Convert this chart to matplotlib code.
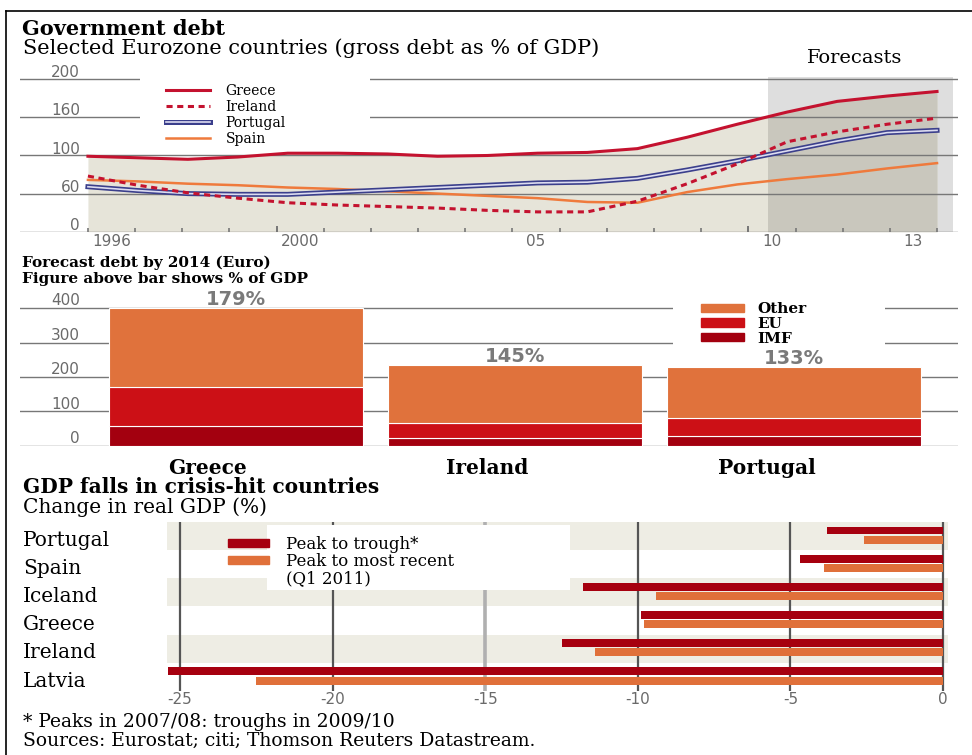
import numpy as np
import matplotlib
matplotlib.use('Agg')
from matplotlib import pyplot as plt
from matplotlib.patches import Patch, Rectangle
from matplotlib.lines import Line2D

W, H = 972, 755
SERIF = 'DejaVu Serif'
SANS = 'DejaVu Sans'
GREY = '#6a6a6a'

# --- government debt, % of GDP ---
years = np.arange(1996, 2014)
greece = [99, 97, 95, 98, 103, 103, 102, 99, 100, 103, 104, 109, 124, 141, 157, 171, 178, 184]
ireland = [73, 61, 51, 44, 38, 35, 33, 31, 28, 26, 26, 40, 63, 89, 118, 131, 141, 149]
portugal = [59, 54, 50, 49, 49, 52, 55, 58, 61, 64, 65, 70, 81, 93, 106, 119, 130, 133]
spain = [68, 66, 63, 61, 58, 56, 53, 50, 47, 44, 39, 38, 52, 62, 69, 75, 83, 90]
debt_grid = [0, 50, 100, 150, 200]
debt_grid_labels = ['0', '60', '100', '160', '200']
year_labels = ['1996', '2000', '05', '10', '13']

# --- forecast debt by 2014, euro bn ---
bail_countries = ['Greece', 'Ireland', 'Portugal']
imf = [57, 23, 28]
eu = [115, 44, 52]
other = [230, 168, 150]
pct_gdp = ['179%', '145%', '133%']
bar_grid = [0, 100, 200, 300, 400]

# --- GDP falls ---
gdp_countries = ['Portugal', 'Spain', 'Iceland', 'Greece', 'Ireland', 'Latvia']
peak_trough = [-3.8, -4.7, -11.8, -9.9, -12.5, -25.4]
peak_recent = [-2.6, -3.9, -9.4, -9.8, -11.4, -22.5]
gdp_ticks = [-25, -20, -15, -10, -5, 0]

RED = '#c4122f'
NAVY = '#3b3f8c'
ORANGE = '#ef7a3c'
BAR_OTHER = '#e0723c'
BAR_EU = '#cc1016'
BAR_IMF = '#a3000f'

plt.rcParams['font.family'] = SANS

fig = plt.figure(figsize=(W / 100, H / 100), dpi=100)


def px_axes(l, t, r, b):
    return fig.add_axes([l / W, 1 - b / H, (r - l) / W, (b - t) / H])


def fig_text(x, y, s, **kw):
    fig.text(x / W, 1 - y / H, s, **kw)


# frame lines
fig.add_artist(Line2D([6 / W, 1], [1 - 11 / H] * 2, transform=fig.transFigure, color='k', lw=1.2))
fig.add_artist(Line2D([6 / W] * 2, [0, 1 - 11 / H], transform=fig.transFigure, color='k', lw=1.2))

# ---------------- top chart ----------------
fig_text(22, 35, 'Government debt', family=SERIF, weight='bold', size=15, va='baseline')
fig_text(23, 54, 'Selected Eurozone countries (gross debt as % of GDP)', family=SERIF, size=15, va='baseline')
fig_text(855, 63, 'Forecasts', family=SERIF, size=14, ha='center', va='baseline')

ax1 = px_axes(20, 77, 958, 231.7)
ax1.set_xlim(1994.64, 2013.42)
ax1.set_ylim(0, 203)
for s in ax1.spines.values():
    s.set_visible(False)
ax1.set_yticks([])

fc_start, fc_end = 2009.62, 2013.32
ax1.axvspan(fc_start, fc_end, color='#dedede', lw=0, zorder=0)
ax1.fill_between(years, 0, greece, color='#e6e4d9', lw=0, zorder=0.5)
dark = ax1.fill_between(years, 0, greece, color='#c9c7bd', lw=0, zorder=0.6)
dark.set_clip_path(Rectangle((fc_start, 0), fc_end - fc_start, 300, transform=ax1.transData))

for v, lab in zip(debt_grid, debt_grid_labels):
    ax1.axhline(v, color='#777777', lw=1, zorder=1)
    ax1.text(0.064, v + 2.5, lab, transform=ax1.get_yaxis_transform(), ha='right',
             va='baseline', color=GREY, size=11)

# white box behind the legend
ax1.add_patch(Rectangle((0.128, 0.53), 0.245, 0.48, transform=ax1.transAxes,
                        color='white', lw=0, zorder=2, clip_on=False))

ax1.plot(years, spain, color=ORANGE, lw=1.8, zorder=3)
ax1.plot(years, portugal, color=NAVY, lw=3.6, zorder=3)
ax1.plot(years, portugal, color='#dcdcf0', lw=1.2, zorder=3.1)
ax1.plot(years, ireland, color=RED, lw=2.2, ls=(0, (2, 1.5)), zorder=4)
ax1.plot(years, greece, color=RED, lw=2.2, zorder=4)

bounds = np.linspace(1996, 2013, 19)
mids = (bounds[:-1] + bounds[1:]) / 2
ax1.set_xticks(bounds, minor=True)
ax1.tick_params(axis='x', which='minor', direction='in', length=3, width=1.2, color='#777777')
ax1.set_xticks(mids[[0, 4, 9, 14, 17]], year_labels)
ax1.tick_params(axis='x', which='major', length=0, pad=2, labelsize=11, labelcolor=GREY)
ax1.vlines(bounds[[4, 14]], 0, 0.04, transform=ax1.get_xaxis_transform(), color='#777777', lw=1.4)

leg_handles = [
    Line2D([], [], color=RED, lw=2.2),
    Line2D([], [], color=RED, lw=2.2, ls=(0, (2, 1.5))),
    (Line2D([], [], color=NAVY, lw=3.6), Line2D([], [], color='#dcdcf0', lw=1.2)),
    Line2D([], [], color=ORANGE, lw=1.8),
]
ax1.legend(leg_handles, ['Greece', 'Ireland', 'Portugal', 'Spain'], loc='upper left',
           bbox_to_anchor=(152 / W, 1 - 70 / H), bbox_transform=fig.transFigure,
           frameon=False, prop=dict(family=SERIF, size=10), handlelength=3.2,
           handletextpad=1.1, labelspacing=0.15, borderpad=0.5)

# ---------------- middle chart ----------------
fig_text(22, 267, 'Forecast debt by 2014 (Euro)', family=SERIF, weight='bold', size=11, va='baseline')
fig_text(22, 283, 'Figure above bar shows % of GDP', family=SERIF, weight='bold', size=11, va='baseline')

ax2 = px_axes(20, 300, 958, 445.7)
ax2.set_ylim(0, 424)
ax2.set_xlim(-0.773, 2.586)
for s in ax2.spines.values():
    s.set_visible(False)
ax2.set_yticks([])

for v in bar_grid:
    ax2.axhline(v, color='#777777', lw=1, zorder=1)
    ax2.text(0.064, v + 8, str(v), transform=ax2.get_yaxis_transform(), ha='right',
             va='baseline', color=GREY, size=11)

# white box behind the legend
ax2.add_patch(Rectangle((0.696, 0.684), 0.226, 0.385, transform=ax2.transAxes,
                        color='white', lw=0, zorder=1.5, clip_on=False))

idx = np.arange(len(bail_countries))
bw = 0.91
ax2.bar(idx, imf, bw, color=BAR_IMF, edgecolor='white', lw=0.8, zorder=2)
ax2.bar(idx, eu, bw, bottom=imf, color=BAR_EU, edgecolor='white', lw=0.8, zorder=2)
totals_low = np.add(imf, eu)
ax2.bar(idx, other, bw, bottom=totals_low, color=BAR_OTHER, edgecolor='white', lw=0.8, zorder=2)
totals = totals_low + np.array(other)
for i, lab in enumerate(pct_gdp):
    ax2.text(i, totals[i] + 8, lab, ha='center', va='baseline', color='#7a7a7a',
             weight='bold', size=14)

ax2.set_xticks(idx - 0.1, bail_countries)
ax2.tick_params(axis='x', length=0, pad=9)
for t in ax2.get_xticklabels():
    t.set_family(SERIF)
    t.set_weight('bold')
    t.set_size(14.5)

ax2.legend([Patch(color=BAR_OTHER), Patch(color=BAR_EU), Patch(color=BAR_IMF)],
           ['Other', 'EU', 'IMF'], loc='upper left',
           bbox_to_anchor=(689 / W, 1 - 290 / H), bbox_transform=fig.transFigure,
           frameon=False, prop=dict(family=SERIF, size=11, weight='bold'), handlelength=2.8,
           handleheight=0.45, handletextpad=0.9, labelspacing=0.05, borderpad=0.3)

# ---------------- bottom chart ----------------
fig_text(23, 493, 'GDP falls in crisis-hit countries', family=SERIF, weight='bold', size=14.5, va='baseline')
fig_text(23, 513, 'Change in real GDP (%)', family=SERIF, size=14.5, va='baseline')

ax3 = px_axes(167, 522, 948, 691)
ax3.set_xlim(-25.43, 0.164)
ax3.set_ylim(5.5, -0.5)
for s in ax3.spines.values():
    s.set_visible(False)
ax3.set_yticks([])

pos = np.arange(len(gdp_countries))
for i in pos[::2]:
    ax3.axhspan(i - 0.5, i + 0.5, color='#eeede4', lw=0, zorder=0)
for v in gdp_ticks:
    if v == -15:
        ax3.axvline(v, color='#b0b0b0', lw=2.6, zorder=1)
    else:
        ax3.axvline(v, color='#555555', lw=1.6, zorder=1)

ax3.add_patch(Rectangle((0.128, 0.598), 0.388, 0.384, transform=ax3.transAxes,
                        color='white', lw=0, zorder=2))

ax3.barh(pos - 0.2, peak_trough, 0.28, color='#a6000f', zorder=3)
ax3.barh(pos + 0.13, peak_recent, 0.28, color='#e0703a', zorder=3)

ax3.set_xticks(gdp_ticks, [str(v) for v in gdp_ticks])
ax3.tick_params(axis='x', length=0, pad=1, labelsize=11, labelcolor=GREY)

for i, name in enumerate(gdp_countries):
    ax3.text(-0.184, i + 0.15, name, transform=ax3.get_yaxis_transform(), ha='left',
             va='center', family=SERIF, size=14.5)

ax3.legend([Patch(color='#a6000f'), Patch(color='#e0703a'), Patch(alpha=0)],
           ['Peak to trough*', 'Peak to most recent', '(Q1 2011)'], loc='upper left',
           bbox_to_anchor=(216 / W, 1 - 524 / H), bbox_transform=fig.transFigure,
           frameon=False, prop=dict(family=SERIF, size=12), handlelength=2.5,
           handleheight=0.4, handletextpad=1.0, labelspacing=0.02, borderpad=0.2)

fig_text(23, 727, '* Peaks in 2007/08: troughs in 2009/10', family=SERIF, size=13.5, va='baseline')
fig_text(23, 746, 'Sources: Eurostat; citi; Thomson Reuters Datastream.', family=SERIF, size=13.5, va='baseline')

fig.savefig('out.png', dpi=100)
